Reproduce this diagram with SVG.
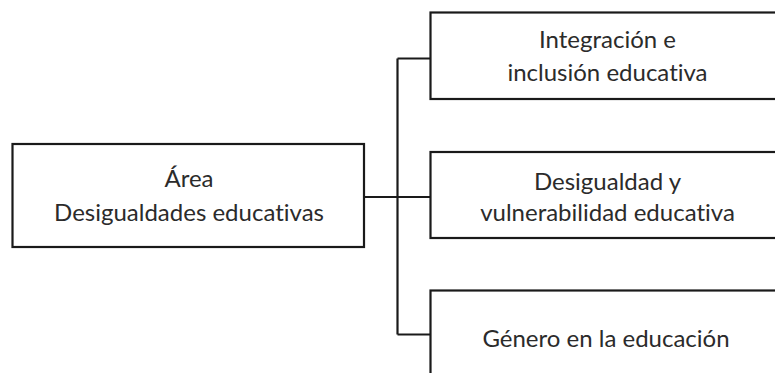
<svg xmlns="http://www.w3.org/2000/svg" width="775" height="373" viewBox="0 0 775 373">
<style>
.box{fill:#fff;stroke:#1a1a1a;stroke-width:2.2}
.lbl{font-family:Lato,"Liberation Sans",sans-serif;font-size:24px;fill:#2b2b2b;text-anchor:middle;font-variant-ligatures:none;font-feature-settings:"liga" 0,"dlig" 0}
.con{fill:none;stroke:#1a1a1a;stroke-width:2.2}
</style>
<rect width="775" height="373" fill="#fff"/>
<g id="connectors">
<path class="con" d="M364 197 H431"/>
<path class="con" d="M397.5 58.5 V334.5"/>
<path class="con" d="M397.5 58.5 H431"/>
<path class="con" d="M397.5 334.5 H431"/>
</g>
<g id="area">
<rect class="box" x="12.5" y="144" width="351.5" height="103"/>
<text class="lbl" x="189" y="187">Área</text>
<text class="lbl" x="189" y="220.5">Desigualdades educativas</text>
</g>
<g id="integracion">
<rect class="box" x="430.5" y="12.5" width="355" height="86.5"/>
<text class="lbl" x="607.5" y="48">Integración e</text>
<text class="lbl" x="607.5" y="81">inclusión educativa</text>
</g>
<g id="desigualdad">
<rect class="box" x="430.5" y="152" width="355" height="86"/>
<text class="lbl" x="607.5" y="189.5">Desigualdad y</text>
<text class="lbl" x="607.5" y="220.5">vulnerabilidad educativa</text>
</g>
<g id="genero">
<rect class="box" x="430.5" y="290.5" width="355" height="100"/>
<text class="lbl" x="606" y="346.5">Género en la educación</text>
</g>
</svg>
